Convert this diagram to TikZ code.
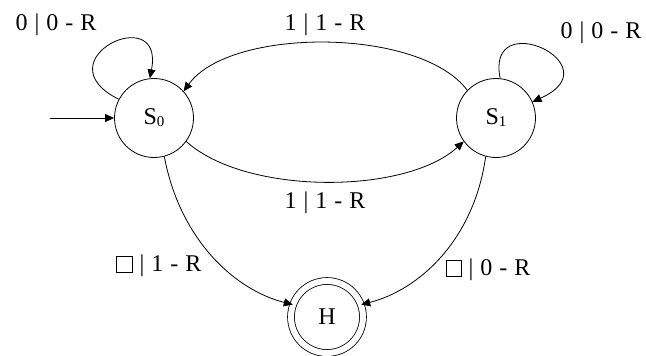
\documentclass[tikz,border=0pt]{standalone}
\usepackage{fontspec}
\setmainfont{Liberation Serif}
\usetikzlibrary{arrows.meta}
\newcommand{\blanksym}{{\setlength\fboxsep{0pt}\setlength\fboxrule{0.6pt}\fbox{\hspace{15pt}\rule{0pt}{15pt}}}}
\newcommand{\gap}{\hspace{7pt}}
\newcommand{\lbl}[3]{#1\gap|\gap#2\gap-\gap#3}
\begin{document}
\begin{tikzpicture}[x=1pt,y=-1pt,
  state/.style={draw,circle,line width=0.8pt,minimum size=79pt,inner sep=0pt,font=\fontsize{24}{28}\selectfont},
  edge/.style={line width=0.8pt,-{Triangle[length=9pt,width=8pt]}},
  lab/.style={font=\fontsize{24}{28}\selectfont,inner sep=0pt}]
\useasboundingbox (0,0) rectangle (646,356);
\node[state] (s0) at (154,118) {S\raisebox{-2pt}{\fontsize{15}{17}\selectfont 0}};
\node[state] (s1) at (496,118) {S\raisebox{-2pt}{\fontsize{15}{17}\selectfont 1}};
\node[state,double,double distance=6pt,minimum size=72pt] (h) at (327,317) {H};
\coordinate (start) at (50,118);
\draw[edge] (start) -- (s0.west);
\draw[edge] (s0.152) .. controls (40,60) and (165,0) .. (s0.96);
\draw[edge] (s1.84) .. controls (485,5) and (615,65) .. (s1.24);
\draw[edge] (s1.136) .. controls (420,27) and (230,27) .. (s0.42);
\draw[edge] (s0.-36) .. controls (245,195) and (405,195) .. (s1.-144);
\draw[edge] (s0.-75) .. controls (180,240) and (235,290) .. (h.160);
\draw[edge] (s1.-105) .. controls (474,240) and (419,290) .. (h.20);
\node[lab] (l1) at (56,25) {\lbl{0}{0}{R}};
\node[lab] (l2) at (601,33) {\lbl{0}{0}{R}};
\node[lab] (l3) at (325,25) {\lbl{1}{1}{R}};
\node[lab] (l4) at (325,203) {\lbl{1}{1}{R}};
\node[lab] (l5) at (159,266) {\blanksym\gap|\gap1\gap-\gap R};
\node[lab] (l6) at (488,270) {\blanksym\gap|\gap0\gap-\gap R};
\end{tikzpicture}
\end{document}
